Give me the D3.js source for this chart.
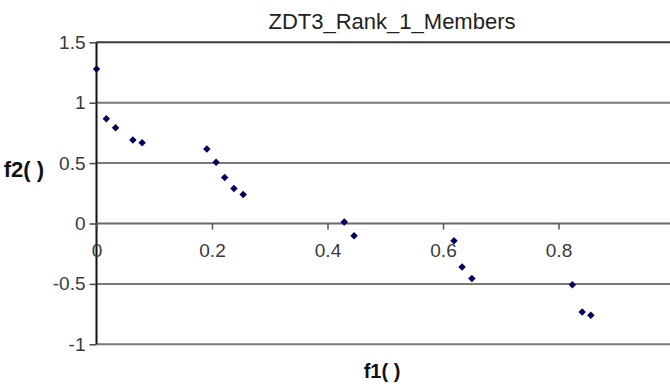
<!DOCTYPE html>
<html>
<head>
<meta charset="utf-8">
<script src="https://cdn.jsdelivr.net/npm/d3@7"></script>
<style>
  html, body { margin: 0; padding: 0; background: #fff; }
  svg { display: block; }
  text { font-family: "Liberation Sans", Arial, sans-serif; }
</style>
</head>
<body>
<svg id="chart" width="670" height="389"></svg>
<script>
// Rank-1 members of the ZDT3 front: objective f1 against objective f2
const f1Values = [0.000, 0.017, 0.033, 0.063, 0.079, 0.191, 0.207, 0.222, 0.238, 0.254,
                  0.429, 0.446, 0.619, 0.633, 0.650, 0.824, 0.841, 0.856];
const f2Values = [1.278, 0.868, 0.793, 0.692, 0.669, 0.617, 0.507, 0.380, 0.289, 0.240,
                  0.012, -0.102, -0.143, -0.360, -0.455, -0.507, -0.732, -0.760];
const xTicks = [0, 0.2, 0.4, 0.6, 0.8];
const yTicks = [-1, -0.5, 0, 0.5, 1, 1.5];
const chartTitle = "ZDT3_Rank_1_Members";
const xLabel = "f1( )";
const yLabel = "f2( )";

const svg = d3.select("#chart");

const x = d3.scaleLinear().domain([0, 1]).range([96.5, 674]);
const y = d3.scaleLinear().domain([-1, 1.5]).range([344.3, 42.3]);

// plain hyphen for negative numbers
const fmt = d => String(d);

// horizontal gridlines
svg.append("g")
  .selectAll("line")
  .data(yTicks.filter(d => d !== 0))
  .join("line")
  .attr("x1", x(0)).attr("x2", 670)
  .attr("y1", d => y(d)).attr("y2", d => y(d))
  .attr("stroke", d => d === 1.5 ? "#3a3a3a" : "#7a7a7a")
  .attr("stroke-width", 2);

// y axis
const yAxis = d3.axisLeft(y)
  .tickValues(yTicks)
  .tickFormat(fmt)
  .tickSize(7)
  .tickPadding(4);
const gy = svg.append("g")
  .attr("transform", `translate(${x(0)},0)`)
  .call(yAxis);
gy.select(".domain").attr("stroke", "#111").attr("stroke-width", 2)
  .attr("d", `M0,${y(1.5)}V${y(-1)}`);
gy.selectAll(".tick line").attr("stroke", "#444").attr("stroke-width", 1.5);
gy.selectAll(".tick text")
  .attr("font-size", 19)
  .attr("fill", "#3a3a3a")
  .attr("font-family", "Liberation Sans, Arial, sans-serif");

// x axis crossing at f2 = 0
const xAxis = d3.axisBottom(x)
  .tickValues(xTicks)
  .tickFormat(fmt)
  .tickSize(6)
  .tickPadding(14);
const gx = svg.append("g")
  .attr("transform", `translate(0,${y(0)})`)
  .call(xAxis);
gx.select(".domain").attr("stroke", "#6a6a6a").attr("stroke-width", 2)
  .attr("d", `M${x(0)},0H670`);
gx.selectAll(".tick line").attr("stroke", "#555").attr("stroke-width", 1.5);
gx.selectAll(".tick text")
  .attr("font-size", 19)
  .attr("fill", "#3a3a3a")
  .attr("font-family", "Liberation Sans, Arial, sans-serif");

// data markers: squares turned 45 degrees
const marker = d3.symbol().type(d3.symbolSquare).size(28);
svg.append("g")
  .selectAll("path")
  .data(f1Values.map((v, i) => [v, f2Values[i]]))
  .join("path")
  .attr("d", marker)
  .attr("transform", d => `translate(${x(d[0])},${y(d[1])}) rotate(45)`)
  .attr("fill", "#00005e");

// title and axis titles
svg.append("text")
  .attr("x", 392).attr("y", 29)
  .attr("text-anchor", "middle")
  .attr("font-size", 22)
  .attr("fill", "#222")
  .text(chartTitle);

svg.append("text")
  .attr("x", 382).attr("y", 378)
  .attr("text-anchor", "middle")
  .attr("font-size", 20)
  .attr("font-weight", "bold")
  .attr("fill", "#111")
  .text(xLabel);

svg.append("text")
  .attr("x", 44).attr("y", 177)
  .attr("text-anchor", "end")
  .attr("font-size", 22)
  .attr("font-weight", "bold")
  .attr("fill", "#111")
  .text(yLabel);
</script>
</body>
</html>
